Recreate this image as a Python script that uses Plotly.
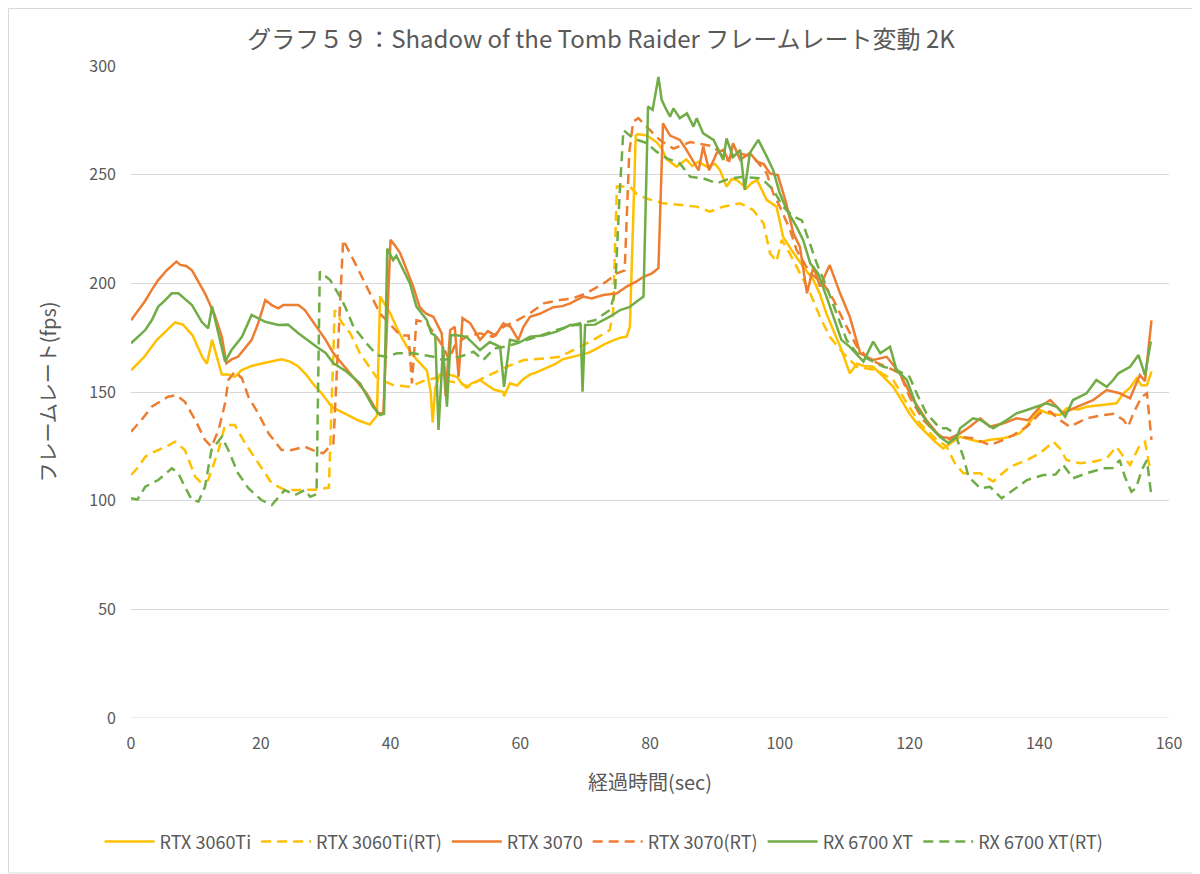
import plotly.graph_objects as go

# 経過時間(sec) / フレームレート(fps)
x_3060ti = [0, 2, 4, 6, 6.8, 8, 9.5, 11, 11.7, 12.5, 13.2, 14, 15, 16, 17, 18.6, 20, 21.5, 23.2, 24.5, 25.7, 27, 28, 29.5, 31, 33, 35, 36.8, 37.9, 38.4, 39.2, 40, 41.2, 42.5, 44, 45.6, 46.2, 46.5, 46.9, 47.6, 49, 50.2, 51, 51.7, 52.5, 53.8, 55, 56, 57.4, 57.5, 58.4, 59.5, 60.5, 61.5, 62.5, 64, 65.5, 66.5, 67.7, 69, 70.5, 71.8, 73, 74.5, 75.5, 76.4, 76.9, 77.8, 78.1, 79.5, 81, 81.8, 82.6, 84.1, 85.6, 86.5, 87.5, 88.7, 90, 90.8, 91.8, 92.6, 93.4, 94.9, 95.6, 96.5, 97.2, 98, 99.5, 100.5, 102, 103.6, 105.2, 106.2, 107.2, 108.3, 109.3, 110.8, 111.9, 113, 114.4, 116, 117.5, 118.8, 120, 121.3, 122.6, 124, 125.2, 126.7, 127.8, 129.5, 130.9, 132.5, 134.5, 136, 137, 138.5, 140.1, 141.5, 143.2, 144.2, 146, 147.3, 149.5, 151.9, 153, 154, 155, 155.8, 156.6, 157.3]
y_3060ti = [160, 166, 174, 180, 182, 181, 176, 166, 163, 174, 166, 158, 158, 157, 160, 162, 163, 164, 165, 164, 162, 158, 154, 149, 143, 140, 137, 135, 139, 194, 190, 186, 178, 171, 165, 160, 150, 136, 152, 158, 158, 157, 154, 152, 154, 155.5, 153, 151, 150, 148, 154, 153, 156, 158, 159, 161, 163, 165, 166, 167, 168, 170, 172, 174, 175, 175.5, 180, 268, 268.7, 268, 265, 262, 257, 253.7, 257, 254, 256, 253.7, 255, 252, 244.5, 248, 247.5, 243.7, 246, 247.5, 243, 238.3, 235.3, 221.5, 214.5, 207.7, 201.5, 195, 186, 178, 171, 158.6, 163, 162, 161.6, 157, 152.4, 146, 140, 135, 131, 127, 124, 127, 129.4, 128, 127, 128, 128.7, 130, 131, 136, 141.7, 140, 139.4, 142.5, 142, 143.2, 144, 144.8, 149.4, 152, 156.3, 153, 153.2, 159.4]

x_3060ti_rt = [0, 1, 2.2, 3.2, 4.2, 5.5, 6.8, 8.3, 9.9, 10.9, 11.9, 13.5, 14.5, 16, 17.6, 19.6, 21.7, 23.7, 26.3, 28.5, 30.5, 31.4, 32.5, 33.8, 35.3, 36.8, 37.8, 39, 40.4, 43, 45, 47.6, 49, 50.7, 52, 54, 56, 57.9, 60.5, 62, 64.1, 66.1, 68.7, 71.3, 73.8, 74.3, 74.9, 76.9, 78, 79.5, 82, 84.6, 87.2, 89.2, 91.3, 93.9, 95.9, 97.5, 98.5, 99.5, 100.3, 101.5, 103, 104.7, 106.2, 107.7, 109.8, 111.9, 114.9, 117.5, 119.6, 121.6, 124.2, 125.7, 127, 128.3, 130.9, 132.9, 135.5, 138.1, 140.1, 142.2, 143.2, 144.2, 146.3, 148.5, 150.4, 151.9, 153, 154, 155.5, 156.3, 157.1]
y_3060ti_rt = [111.8, 115, 120.2, 122, 123.3, 125, 127.1, 123.3, 111, 108, 109.5, 123.3, 134.8, 134.8, 126.4, 117.2, 108, 104.9, 104.9, 105, 106, 187.7, 182, 177, 167.8, 161.6, 157, 155, 153.2, 152.4, 155, 157, 155, 154, 152.4, 156, 159, 161.6, 164.7, 165, 165.5, 166.2, 170, 174, 178.5, 186.2, 244.5, 244.5, 241, 239, 236.8, 236, 235.3, 233, 235.3, 236.8, 233.7, 227.6, 213.8, 210, 220, 214, 205, 195.4, 184.6, 175.4, 167.8, 161.6, 160.1, 155.5, 144.8, 135.6, 128, 125, 117.2, 112.6, 112.6, 108.8, 115.6, 118.7, 121.8, 127.1, 124, 118.7, 117.2, 118, 119.5, 124.8, 120.2, 116.4, 125.6, 127.1, 114]

x_3070 = [0, 1, 2.2, 3.2, 4.2, 5.5, 7, 7.6, 8.5, 9.4, 10.4, 11.4, 12.9, 14, 14.7, 15.5, 16.5, 17.5, 18.6, 19.6, 20.7, 21.7, 22.7, 23.5, 24.5, 25.8, 26.8, 28.6, 30, 31.2, 32.5, 33.8, 35, 36.3, 38.1, 38.9, 40, 40.8, 41.5, 42.5, 43.5, 44.5, 45.5, 46.6, 47.9, 48.5, 49.2, 49.9, 50.5, 51.1, 52.3, 53.8, 55, 56.2, 57.4, 58.5, 59.7, 60.5, 61.5, 63, 65.1, 66.5, 67.7, 69.7, 71, 72.8, 74.9, 76.4, 78, 79, 80.3, 81.3, 82, 83.1, 84.6, 85.5, 86.2, 87.5, 88.2, 89.1, 90.3, 91.3, 92.2, 92.8, 93.9, 95.4, 96.5, 97.5, 98.5, 99.7, 101, 102.1, 103.1, 104.2, 105.2, 106.2, 107.7, 109.3, 110.8, 112.4, 114.4, 116.5, 118.5, 120.6, 122.6, 124.7, 126.2, 127.8, 129.3, 130.9, 132.4, 134.5, 136.5, 138.3, 140.1, 141.7, 143.7, 145.8, 148.3, 150.4, 152.4, 154, 155.5, 156.3, 157.3]
y_3070 = [183, 187, 192, 197, 201.5, 206, 210, 208.5, 208, 206, 201, 195.4, 185.4, 175.4, 163.2, 165, 166.2, 170, 174, 181.6, 192.3, 190, 188.5, 190, 190, 190, 187.7, 180, 174, 167.8, 163, 158.6, 154, 149.4, 140.2, 140.2, 220, 217, 213.8, 206, 198.5, 189, 186, 184.6, 177, 148, 178.5, 180, 157, 184, 181.6, 174, 178, 176, 181.6, 180, 174, 180, 184.6, 186, 189, 189.5, 190.8, 193.9, 193, 194.6, 195.4, 198.5, 201, 203, 204.6, 207, 273.6, 268, 266, 262, 258.3, 252, 263, 252, 260, 261.4, 256, 264.5, 256.8, 260, 256, 255, 250.6, 249.8, 236.8, 223, 216.9, 195.4, 207.7, 198.5, 208.4, 195.4, 184.6, 167.8, 164.7, 166.2, 158.6, 146.3, 137.1, 129.4, 128.7, 131, 134, 137.9, 134, 135.6, 137.9, 137, 143.2, 146.3, 140.2, 143.2, 146.3, 150.9, 149.4, 147.1, 157.8, 155, 183]

x_3070_rt = [0, 1.6, 3.2, 5.7, 7, 8.3, 9.9, 11.4, 12.4, 13.5, 14.5, 15, 16, 17.1, 18.1, 19.6, 21.2, 23.2, 24.8, 26.8, 28.2, 29.6, 31.2, 32.7, 34.3, 36.3, 37.9, 38.4, 40, 41.5, 42.8, 43.3, 44, 45.5, 47.1, 48.1, 49, 50, 51.7, 53.8, 55.8, 57.4, 59.5, 61.5, 63.6, 66.1, 68, 70.2, 73.3, 74.9, 76.1, 76.8, 77.4, 78.2, 80, 81.5, 83.6, 86.2, 89.8, 91.8, 93.5, 95.9, 98, 99, 100, 101.6, 102.6, 104.7, 106.7, 108.3, 109.8, 111.9, 113.9, 116.5, 118.5, 120, 122.1, 124.2, 125.7, 127.8, 129.8, 132.4, 134.5, 136, 138.1, 140.1, 141.7, 143.2, 144.7, 147.3, 149.9, 151.5, 153, 153.7, 154.5, 155.8, 156.6, 157.3]
y_3070_rt = [131.7, 137.1, 143.2, 147.8, 148.6, 145.5, 137.1, 128, 124.8, 132.5, 144.8, 155.5, 159.4, 156.3, 147.8, 140.2, 131, 123.3, 123.3, 124.8, 123, 121.8, 126.4, 220, 210.7, 198.5, 189.3, 186, 181, 176, 176, 154, 183, 182, 175.4, 170.8, 165, 172, 175.4, 177, 175.4, 180, 183, 186.2, 190.8, 192.3, 193, 195.4, 200.8, 204.6, 206, 260, 274.4, 276, 270.5, 266, 262, 265, 263, 256.8, 260, 258.3, 250.6, 241.4, 235.3, 224.5, 215.3, 204.6, 200, 192.3, 183, 170.8, 164.7, 161.6, 158.6, 147.8, 137.1, 131, 128, 129.4, 128.7, 125.6, 128, 130.2, 134, 140.2, 141, 137.1, 134, 137.9, 139.4, 140, 137.1, 134, 140.2, 147.8, 149.4, 128]

x_6700xt = [0, 1, 2.2, 3.2, 4.2, 5.2, 6.3, 7.3, 8.3, 9.4, 10.9, 11.9, 12.5, 13.5, 14.5, 15.5, 17.1, 18.6, 20.7, 22.7, 24.2, 25.8, 26.8, 28.6, 30, 31.2, 33.2, 35.3, 37.3, 38.4, 39, 39.5, 40.4, 40.9, 42, 43, 44, 45.6, 46.3, 46.9, 47.4, 48.1, 48.7, 49.3, 50.5, 51.7, 53.8, 55.3, 56.9, 57.5, 58.4, 60, 61.5, 63.5, 65.6, 67.7, 69.3, 69.6, 70, 71.5, 72.8, 74, 75.4, 76.8, 77.9, 79, 79.7, 80.4, 81.3, 81.8, 82.5, 83.1, 83.6, 84.6, 85.7, 86.7, 87.2, 88.2, 89.8, 91.3, 91.8, 92.8, 93.9, 94.6, 95.4, 96.7, 98, 99, 100, 101.1, 102.6, 103.6, 104.7, 105.9, 107.2, 108.8, 109.5, 110.8, 112.9, 114.4, 115.5, 117, 118, 119.6, 121.1, 123.2, 124.7, 126, 127.3, 127.8, 129.8, 131, 132.9, 135, 136.5, 138.1, 139.6, 141.1, 142.7, 144, 145.2, 147.3, 148.8, 150.4, 151.4, 152.2, 154, 155.3, 156.3, 157.2]
y_6700xt = [172.4, 175, 178.5, 183, 189.3, 192, 195.4, 195.4, 193, 190, 182.3, 179.3, 189.3, 177, 164, 169.3, 175.4, 185.4, 182.3, 180.8, 181, 177, 174.7, 170.8, 168, 163.2, 159.4, 154, 143.2, 139.4, 140, 216, 210.7, 212.7, 206, 200, 189.3, 183.1, 177, 176, 132.5, 170.8, 143.2, 176.2, 176, 175.4, 169.3, 173, 170.8, 152.4, 174, 173, 175.4, 176, 177.8, 180.8, 181, 150.1, 180.8, 181, 183.1, 185, 187.7, 189, 191.5, 193.9, 281.3, 279.8, 295, 284.4, 280, 276.7, 280.5, 276, 278.2, 272.1, 276, 269, 266, 256.8, 266.7, 258, 261.4, 243, 260, 266, 258.3, 252, 241.4, 233.7, 226, 220, 209.2, 204.6, 193.9, 180, 174, 170.8, 164, 173.2, 167.8, 170.8, 160.1, 155.5, 143.2, 134, 129.4, 126.4, 129.4, 133.3, 137.9, 137, 133.3, 137.1, 140.2, 141.7, 143.2, 144.8, 143.2, 138.6, 146.3, 149.4, 155.5, 152.4, 155.5, 158.6, 161.6, 167, 157.8, 173.2]

x_6700xt_rt = [0, 1, 2.2, 4.2, 6.3, 7.3, 8.3, 9.4, 10.4, 11.4, 12.4, 14, 15, 16.5, 18.1, 20.1, 21.7, 23.7, 25.3, 26.8, 27.6, 28.6, 29.1, 30.7, 32.2, 33, 34.3, 36.3, 37.9, 39.4, 41, 43.5, 46.6, 48.1, 50.7, 52.8, 54.3, 56, 58, 59.5, 62.5, 65.6, 69.2, 71.5, 73.8, 74.6, 75.3, 75.9, 77.4, 79.5, 81, 82.6, 84.6, 86.2, 88.2, 90.3, 92.3, 94.4, 97, 98, 99, 100.5, 102, 103.4, 104.4, 105.7, 107.2, 108.8, 110.3, 111.9, 113.9, 116, 118, 120, 121.1, 122.6, 124.7, 125.7, 127, 128.3, 129.1, 130.9, 132.4, 134.2, 136, 138.1, 140.6, 142.5, 143.7, 145.2, 147.3, 149.9, 151.3, 152.4, 153.2, 154.2, 154.9, 155.8, 156.6, 157.3]
y_6700xt_rt = [101.1, 100.5, 106.4, 109.5, 114.9, 112.6, 106.4, 100.3, 99.6, 106.4, 123.3, 129.4, 123.3, 112.6, 105.7, 100.3, 98, 104.9, 102.6, 104.9, 101.8, 103, 205.4, 201.5, 193.9, 189.3, 180, 172.4, 167, 166.2, 167.8, 167.8, 166.2, 164.7, 166.2, 168.5, 164.7, 170, 171, 172.4, 175.4, 178.5, 181.6, 183, 187.7, 195.4, 240, 270.5, 266.7, 264.5, 260.6, 257.5, 255.2, 249, 248.3, 246, 248.3, 249, 248.3, 246, 243, 235.3, 231, 229, 220, 209.2, 198.5, 186.2, 174, 167.8, 164.7, 161.6, 160.1, 157, 149.4, 140.2, 133.3, 133.3, 131, 120.2, 111, 105.7, 106.4, 101.1, 104.9, 109.5, 111.8, 112, 116.4, 110.3, 112.6, 114.9, 115, 118.7, 111, 104.1, 105.7, 114.1, 118.7, 101.8]

YELLOW = '#FFC000'
ORANGE = '#ED7D31'
GREEN = '#70AD47'
TEXT = '#595959'
GRID = '#D9D9D9'
FONT = 'Noto Sans CJK JP, sans-serif'

series = [
    ('RTX 3060Ti', x_3060ti, y_3060ti, YELLOW, 'solid'),
    ('RTX 3060Ti(RT)', x_3060ti_rt, y_3060ti_rt, YELLOW, '10px,6px'),
    ('RTX 3070', x_3070, y_3070, ORANGE, 'solid'),
    ('RTX 3070(RT)', x_3070_rt, y_3070_rt, ORANGE, '10px,6px'),
    ('RX 6700 XT', x_6700xt, y_6700xt, GREEN, 'solid'),
    ('RX 6700 XT(RT)', x_6700xt_rt, y_6700xt_rt, GREEN, '10px,6px'),
]

fig = go.Figure()
for name, xs, ys, color, dash in series:
    fig.add_trace(go.Scatter(x=xs, y=ys, mode='lines', name=name,
                             line=dict(color=color, width=2.5, dash=dash)))

# the page body adds an 8px offset, so the margins are shifted to compensate
fig.update_layout(
    width=1200, height=874,
    margin=dict(l=123, r=39, t=58, b=164),
    paper_bgcolor='white', plot_bgcolor='white',
    font=dict(family=FONT, color=TEXT, size=15),
    title=dict(text='グラフ５９：Shadow of the Tomb Raider フレームレート変動 2K',
               x=593 / 1200, xanchor='center', y=1 - 32 / 874, yanchor='middle', yref='container',
               font=dict(size=24, color=TEXT)),
    xaxis=dict(range=[0, 160], dtick=20, showgrid=False, zeroline=False,
               showline=False, ticks='', ticklabelstandoff=14,
               tickfont=dict(size=16, color=TEXT),
               title=dict(text='経過時間(sec)', font=dict(size=20, color=TEXT), standoff=22)),
    yaxis=dict(range=[0, 300], dtick=50, showgrid=True, gridcolor=GRID, gridwidth=1,
               zeroline=False, showline=False, ticks='', ticklabelstandoff=14,
               tickfont=dict(size=16, color=TEXT),
               title=dict(text='フレームレート(fps)', font=dict(size=20, color=TEXT), standoff=27)),
    legend=dict(orientation='h', x=0.4557, xanchor='center', y=-0.19, yanchor='middle',
                font=dict(size=18, color=TEXT), itemwidth=50, traceorder='normal'),
    showlegend=True,
)

# the y=0 baseline and the chart frame
fig.add_shape(type='line', xref='paper', yref='y', x0=0, x1=1, y0=0, y1=0,
              line=dict(color=GRID, width=1), layer='below')
fig.add_shape(type='rect', xref='paper', yref='paper',
              x0=-122.5 / 1038, x1=1068 / 1038, y0=-155 / 652, y1=709.5 / 652,
              line=dict(color=GRID, width=1))

fig.write_html('out.html')
